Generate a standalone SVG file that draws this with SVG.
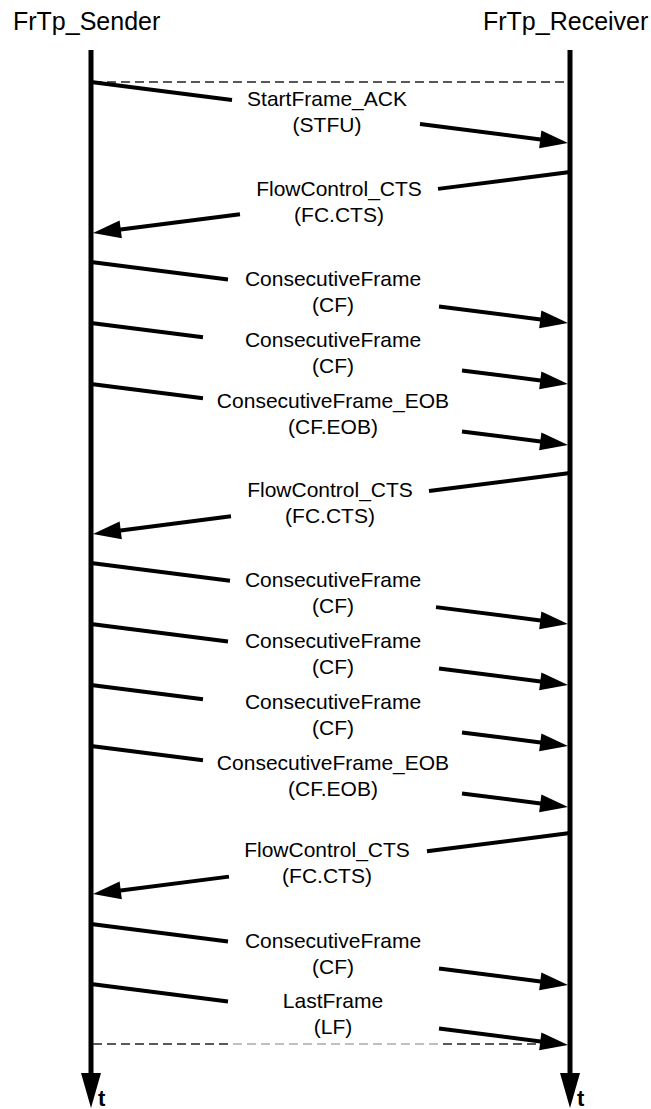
<svg xmlns="http://www.w3.org/2000/svg" width="651" height="1109" viewBox="0 0 651 1109">
  <style>
    .hdr { font-family: "Liberation Sans", Arial, sans-serif; font-size: 25px; fill: #000; }
    .lbl { font-family: "Liberation Sans", Arial, sans-serif; font-size: 21px; fill: #000; text-anchor: middle; }
    .tl { font-family: "Liberation Sans", Arial, sans-serif; font-size: 22px; font-weight: bold; fill: #000; }
    .life { stroke: #000; stroke-width: 5; fill: none; }
    .msg { stroke: #000; stroke-width: 4; fill: none; }
    .head { stroke: #000; stroke-width: 4; fill: none; marker-end: url(#ah); }
    .dash { stroke: #222; stroke-width: 1.5; stroke-dasharray: 9 5; fill: none; }
  </style>
  <defs>
    <marker id="ah" markerUnits="userSpaceOnUse" markerWidth="28" markerHeight="18" refX="8" refY="9" orient="auto" overflow="visible">
      <path d="M0,0 L28,9 L0,18 z" fill="#000"/>
    </marker>
    <linearGradient id="fade" gradientUnits="userSpaceOnUse" x1="91" y1="0" x2="570" y2="0">
      <stop offset="0.286" stop-color="#222"/>
      <stop offset="0.286" stop-color="#aaa"/>
      <stop offset="0.726" stop-color="#aaa"/>
      <stop offset="0.726" stop-color="#222"/>
    </linearGradient>
  </defs>
  <rect x="0" y="0" width="651" height="1109" fill="#fff"/>

  <g id="sender">
    <text class="hdr" x="13" y="30">FrTp_Sender</text>
    <line class="life" x1="91" y1="50" x2="91" y2="1078"/>
    <path d="M81,1073 L101,1073 L91,1108 z" fill="#000"/>
    <text class="tl" x="98" y="1106">t</text>
  </g>

  <g id="receiver">
    <text class="hdr" x="483" y="30">FrTp_Receiver</text>
    <line class="life" x1="570" y1="50" x2="570" y2="1078"/>
    <path d="M560,1073 L580,1073 L570,1108 z" fill="#000"/>
    <text class="tl" x="577" y="1106">t</text>
  </g>

  <g id="connectors">
    <line class="dash" x1="93" y1="82" x2="568" y2="82"/>
    <line x1="93" y1="1044" x2="568" y2="1044" stroke="url(#fade)" stroke-width="1.5" stroke-dasharray="9 5"/>

    <g id="m1">
      <line class="msg" x1="91" y1="82" x2="232" y2="100.03"/>
      <line class="head" x1="420" y1="124.07" x2="548.2" y2="140.46"/>
      <text class="lbl" x="327" y="106">StartFrame_ACK</text>
      <text class="lbl" x="327" y="132">(STFU)</text>
    </g>
    <g id="m2">
      <line class="msg" x1="570" y1="172" x2="438" y2="188.88"/>
      <line class="head" x1="240" y1="214.2" x2="112.8" y2="230.46"/>
      <text class="lbl" x="339" y="196">FlowControl_CTS</text>
      <text class="lbl" x="339" y="222">(FC.CTS)</text>
    </g>
    <g id="m3">
      <line class="msg" x1="91" y1="262" x2="228" y2="279.52"/>
      <line class="head" x1="439" y1="306.5" x2="548.2" y2="320.46"/>
      <text class="lbl" x="333" y="286">ConsecutiveFrame</text>
      <text class="lbl" x="333" y="312">(CF)</text>
    </g>
    <g id="m4">
      <line class="msg" x1="91" y1="323" x2="203" y2="337.32"/>
      <line class="head" x1="462" y1="370.44" x2="548.2" y2="381.46"/>
      <text class="lbl" x="333" y="347">ConsecutiveFrame</text>
      <text class="lbl" x="333" y="373">(CF)</text>
    </g>
    <g id="m5">
      <line class="msg" x1="91" y1="384" x2="203" y2="398.32"/>
      <line class="head" x1="462" y1="431.44" x2="548.2" y2="442.46"/>
      <text class="lbl" x="333" y="408">ConsecutiveFrame_EOB</text>
      <text class="lbl" x="333" y="434">(CF.EOB)</text>
    </g>
    <g id="m6">
      <line class="msg" x1="570" y1="473" x2="429" y2="491.03"/>
      <line class="head" x1="231" y1="516.35" x2="112.8" y2="531.46"/>
      <text class="lbl" x="330" y="497">FlowControl_CTS</text>
      <text class="lbl" x="330" y="523">(FC.CTS)</text>
    </g>
    <g id="m7">
      <line class="msg" x1="91" y1="563" x2="230" y2="580.78"/>
      <line class="head" x1="436" y1="607.12" x2="548.2" y2="621.46"/>
      <text class="lbl" x="333" y="587">ConsecutiveFrame</text>
      <text class="lbl" x="333" y="613">(CF)</text>
    </g>
    <g id="m8">
      <line class="msg" x1="91" y1="624" x2="228" y2="641.52"/>
      <line class="head" x1="439" y1="668.5" x2="548.2" y2="682.46"/>
      <text class="lbl" x="333" y="648">ConsecutiveFrame</text>
      <text class="lbl" x="333" y="674">(CF)</text>
    </g>
    <g id="m9">
      <line class="msg" x1="91" y1="685" x2="203" y2="699.32"/>
      <line class="head" x1="462" y1="732.44" x2="548.2" y2="743.46"/>
      <text class="lbl" x="333" y="709">ConsecutiveFrame</text>
      <text class="lbl" x="333" y="735">(CF)</text>
    </g>
    <g id="m10">
      <line class="msg" x1="91" y1="746" x2="203" y2="760.32"/>
      <line class="head" x1="462" y1="793.44" x2="548.2" y2="804.46"/>
      <text class="lbl" x="333" y="770">ConsecutiveFrame_EOB</text>
      <text class="lbl" x="333" y="796">(CF.EOB)</text>
    </g>
    <g id="m11">
      <line class="msg" x1="570" y1="833" x2="427" y2="851.29"/>
      <line class="head" x1="229" y1="876.61" x2="112.8" y2="891.46"/>
      <text class="lbl" x="327" y="857">FlowControl_CTS</text>
      <text class="lbl" x="327" y="883">(FC.CTS)</text>
    </g>
    <g id="m12">
      <line class="msg" x1="91" y1="924" x2="228" y2="941.52"/>
      <line class="head" x1="439" y1="968.5" x2="548.2" y2="982.46"/>
      <text class="lbl" x="333" y="948">ConsecutiveFrame</text>
      <text class="lbl" x="333" y="974">(CF)</text>
    </g>
    <g id="m13">
      <line class="msg" x1="91" y1="984" x2="228" y2="1001.52"/>
      <line class="head" x1="439" y1="1028.5" x2="548.2" y2="1042.46"/>
      <text class="lbl" x="333" y="1008">LastFrame</text>
      <text class="lbl" x="333" y="1034">(LF)</text>
    </g>
  </g>
</svg>
